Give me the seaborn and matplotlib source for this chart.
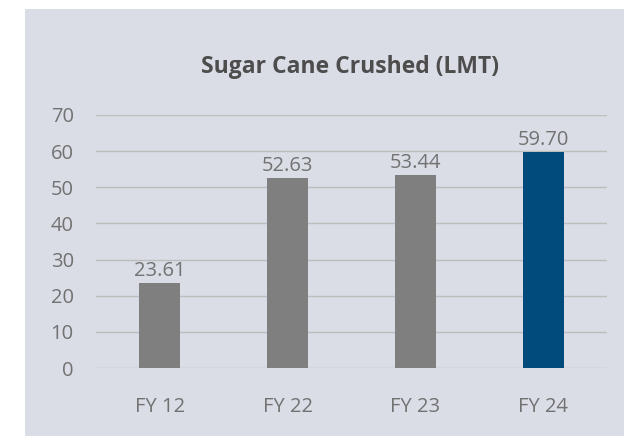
import pandas as pd
import numpy as np
import matplotlib.pyplot as plt
import seaborn as sns
from matplotlib.patches import Rectangle

years = ["FY 12", "FY 22", "FY 23", "FY 24"]
crushed = [23.61, 52.63, 53.44, 59.70]
bar_colors = ["#7f7f80", "#7f7f80", "#7f7f80", "#004a7c"]
yticks = [0, 10, 20, 30, 40, 50, 60, 70]

sns.set_style("white")
plt.rcParams['font.family'] = ['Open Sans', 'DejaVu Sans']

df = pd.DataFrame({"year": years, "value": crushed})

fig = plt.figure(figsize=(6.24, 4.36), dpi=100)
bg = "#dadde6"
fig.patches.append(Rectangle((25 / 624, 0), 1, 1 - 9 / 436, transform=fig.transFigure,
                             facecolor=bg, edgecolor="none", zorder=-5))

ax = fig.add_axes([96 / 624, (436 - 368) / 436, (607 - 96) / 624, (368 - 115) / 436])
ax.patch.set_alpha(0)

sns.barplot(data=df, x="year", y="value", hue="year", palette=bar_colors,
            legend=False, width=0.32, saturation=1, linewidth=0, ax=ax, zorder=3)

ax.set_ylim(0, 70)
ax.set_yticks(yticks)
ax.yaxis.grid(True, color="#bdbdbd", linewidth=1)
ax.set_axisbelow(True)
for s in ax.spines.values():
    s.set_visible(False)
ax.set_xlabel("")
ax.set_ylabel("")
ax.tick_params(axis="y", length=0, pad=16, labelsize=14.5, labelcolor="#727272")
ax.tick_params(axis="x", length=0, pad=21, labelsize=14.5, labelcolor="#727272")

for i, v in enumerate(crushed):
    ax.text(i, v + 0.5, f"{v:.2f}", ha="center", va="bottom", fontsize=14.5, color="#727272")

fig.text(350 / 624, 1 - 67 / 436, "Sugar Cane Crushed (LMT)", ha="center", va="center",
         fontsize=16.5, fontweight="bold", color="#4d4d4d")

plt.savefig("out.png", dpi=100)
